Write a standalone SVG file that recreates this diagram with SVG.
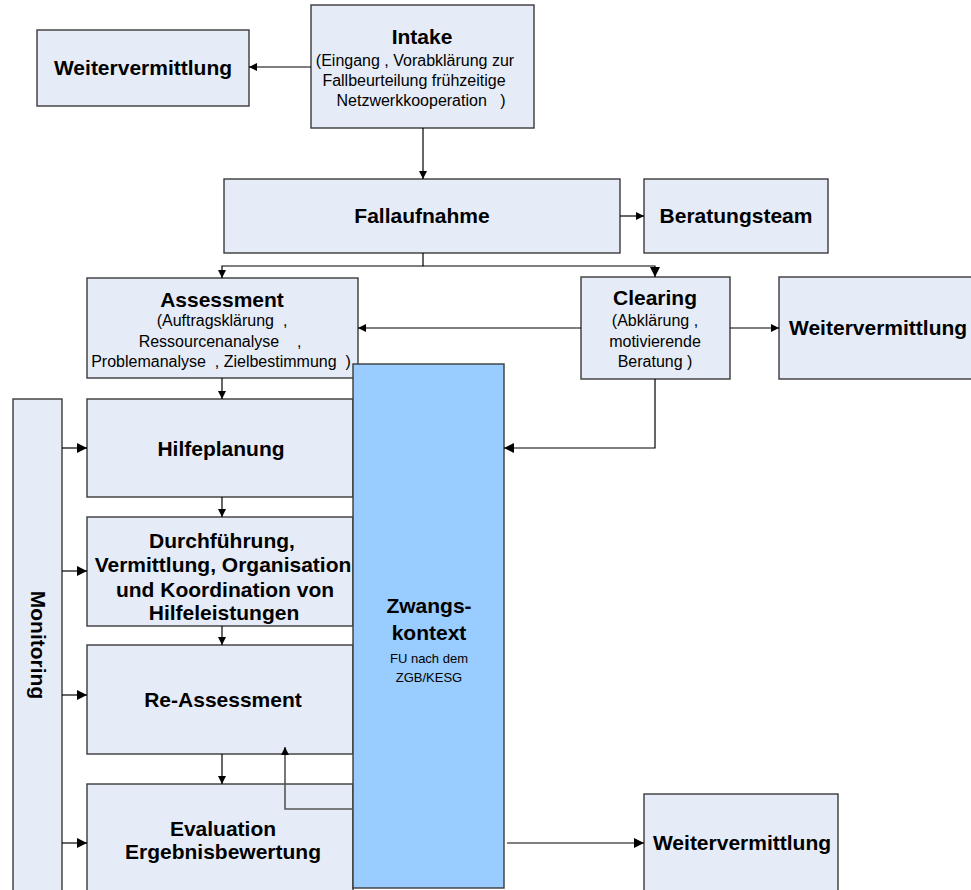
<svg xmlns="http://www.w3.org/2000/svg" width="971" height="890" viewBox="0 0 971 890">
  <style>
    .box { fill: #E6ECF7; stroke: #3A3A3A; stroke-width: 1.4; }
    .zk { fill: #99CCFF; stroke: #3A3A3A; stroke-width: 1.4; }
    .t { font-family: "Liberation Sans", Arial, sans-serif; font-weight: bold; font-size: 21px; fill: #000; text-anchor: middle; }
    .s { font-family: "Liberation Sans", Arial, sans-serif; font-size: 16px; fill: #000; text-anchor: middle; white-space: pre; }
    .xs { font-family: "Liberation Sans", Arial, sans-serif; font-size: 13px; fill: #000; text-anchor: middle; }
    .c { fill: none; stroke: #000; stroke-width: 1.2; }
    .cg { fill: none; stroke: #555; stroke-width: 1.6; }
  </style>
  <defs>
    <marker id="arr" viewBox="0 0 10 10" refX="10" refY="5" markerWidth="10" markerHeight="8" markerUnits="userSpaceOnUse" orient="auto">
      <path d="M0,0 L10,5 L0,10 Z" fill="#000"/>
    </marker>
    <marker id="arrL" viewBox="0 0 10 10" refX="10" refY="5" markerWidth="12" markerHeight="10" markerUnits="userSpaceOnUse" orient="auto">
      <path d="M0,0 L10,5 L0,10 Z" fill="#000"/>
    </marker>
  </defs>

  <!-- process boxes -->
  <g id="weitervermittlung-top">
    <rect class="box" x="37" y="30" width="212" height="76"/>
    <text class="t" x="143" y="75">Weitervermittlung</text>
  </g>
  <g id="intake">
    <rect class="box" x="311" y="5" width="223" height="123"/>
    <text class="t" x="422" y="44">Intake</text>
    <text class="s" x="415" y="66">(Eingang , Vorabklärung zur</text>
    <text class="s" x="414" y="86">Fallbeurteilung frühzeitige</text>
    <text class="s" x="421" y="106">Netzwerkkooperation   )</text>
  </g>
  <g id="fallaufnahme">
    <rect class="box" x="224" y="179" width="396" height="74"/>
    <text class="t" x="422" y="223">Fallaufnahme</text>
  </g>
  <g id="beratungsteam">
    <rect class="box" x="644" y="179" width="184" height="74"/>
    <text class="t" x="736" y="223">Beratungsteam</text>
  </g>
  <g id="assessment">
    <rect class="box" x="87" y="278" width="271" height="100"/>
    <text class="t" x="222" y="307">Assessment</text>
    <text class="s" x="222" y="326">(Auftragsklärung  ,</text>
    <text class="s" x="220" y="347">Ressourcenanalyse    ,</text>
    <text class="s" x="221" y="367">Problemanalyse  , Zielbestimmung  )</text>
  </g>
  <g id="clearing">
    <rect class="box" x="581" y="277" width="149" height="102"/>
    <text class="t" x="655" y="305">Clearing</text>
    <text class="s" x="655" y="326">(Abklärung ,</text>
    <text class="s" x="655" y="347">motivierende</text>
    <text class="s" x="655" y="367">Beratung )</text>
  </g>
  <g id="weitervermittlung-right">
    <rect class="box" x="779" y="277" width="215" height="102"/>
    <text class="t" x="789" y="335" style="text-anchor:start">Weitervermittlung</text>
  </g>
  <g id="monitoring">
    <rect class="box" x="13" y="399" width="49" height="510"/>
    <text class="t" transform="translate(31,645) rotate(90)" x="0" y="0">Monitoring</text>
  </g>
  <g id="hilfeplanung">
    <rect class="box" x="87" y="399" width="266" height="98"/>
    <text class="t" x="221" y="456">Hilfeplanung</text>
  </g>
  <g id="durchfuehrung">
    <rect class="box" x="87" y="517" width="266" height="109"/>
    <text class="t" x="222" y="548">Durchführung,</text>
    <text class="t" x="223" y="572">Vermittlung, Organisation</text>
    <text class="t" x="225" y="597">und Koordination von</text>
    <text class="t" x="224" y="620">Hilfeleistungen</text>
  </g>
  <g id="re-assessment">
    <rect class="box" x="87" y="645" width="266" height="109"/>
    <text class="t" x="223" y="707">Re-Assessment</text>
  </g>
  <g id="evaluation">
    <rect class="box" x="87" y="784" width="266" height="120"/>
    <text class="t" x="223" y="836">Evaluation</text>
    <text class="t" x="223" y="859">Ergebnisbewertung</text>
  </g>
  <g id="zwangskontext">
    <rect class="zk" x="353" y="364" width="151" height="524"/>
    <text class="t" x="429" y="613">Zwangs-</text>
    <text class="t" x="429" y="640">kontext</text>
    <text class="xs" x="429" y="663">FU nach dem</text>
    <text class="xs" x="429" y="682">ZGB/KESG</text>
  </g>
  <g id="weitervermittlung-bottom">
    <rect class="box" x="644" y="794" width="194" height="110"/>
    <text class="t" x="742" y="850">Weitervermittlung</text>
  </g>

  <!-- connectors -->
  <g id="connectors">
    <path class="c" d="M311,67 H249" marker-end="url(#arr)"/>
    <path class="c" d="M423,128 V179" marker-end="url(#arr)"/>
    <path class="c" d="M620,216 H644" marker-end="url(#arr)"/>
    <path class="c" d="M423,253 V266 H222 V278" marker-end="url(#arr)"/>
    <path class="c" d="M423,266 H655 V277" marker-end="url(#arrL)"/>
    <path class="c" d="M581,328 H358" marker-end="url(#arr)"/>
    <path class="c" d="M730,328 H779" marker-end="url(#arr)"/>
    <path class="c" d="M655,379 V448 H504" marker-end="url(#arrL)"/>
    <path class="c" d="M222,378 V399" marker-end="url(#arr)"/>
    <path class="c" d="M222,497 V517" marker-end="url(#arr)"/>
    <path class="c" d="M222,626 V645" marker-end="url(#arr)"/>
    <path class="c" d="M222,754 V784" marker-end="url(#arr)"/>
    <path class="cg" d="M353,809 H285 V747" marker-end="url(#arr)"/>
    <path class="c" d="M62,448 H87" marker-end="url(#arrL)"/>
    <path class="c" d="M62,571 H87" marker-end="url(#arrL)"/>
    <path class="c" d="M62,695 H87" marker-end="url(#arrL)"/>
    <path class="c" d="M62,843 H87" marker-end="url(#arrL)"/>
    <path class="c" d="M507,843 H644" marker-end="url(#arrL)"/>
  </g>
</svg>
